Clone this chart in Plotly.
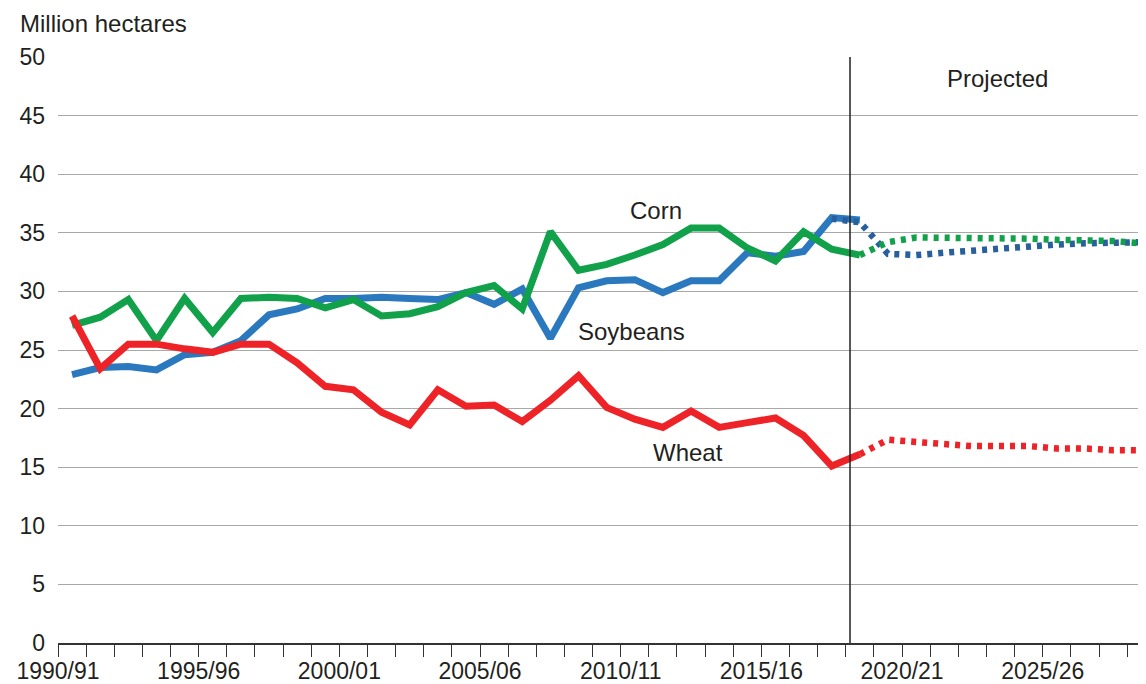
import plotly.graph_objects as go

# ---- data (million hectares) ----
hist_years = list(range(1990, 2019))
corn = [27.1, 27.8, 29.3, 25.8, 29.4, 26.5, 29.4, 29.5, 29.4, 28.6, 29.3, 27.9, 28.1, 28.7,
        29.9, 30.5, 28.5, 35.1, 31.8, 32.3, 33.1, 34.0, 35.4, 35.4, 33.7, 32.6, 35.1, 33.6, 33.1]
soybeans = [22.9, 23.5, 23.6, 23.3, 24.6, 24.8, 25.8, 28.0, 28.5, 29.4, 29.4, 29.5, 29.4, 29.3,
            29.9, 28.9, 30.2, 26.0, 30.3, 30.9, 31.0, 29.9, 30.9, 30.9, 33.3, 33.0, 33.4, 36.3, 36.1]
wheat = [27.9, 23.4, 25.5, 25.5, 25.1, 24.8, 25.5, 25.5, 23.9, 21.9, 21.6, 19.7, 18.6, 21.6,
         20.2, 20.3, 18.9, 20.7, 22.8, 20.1, 19.1, 18.4, 19.8, 18.4, 18.8, 19.2, 17.7, 15.1, 16.1]

proj_years = list(range(2018, 2029))
corn_proj = [33.1, 34.2, 34.6, 34.6, 34.6, 34.6, 34.5, 34.4, 34.4, 34.3, 34.1]
wheat_proj = [16.1, 17.35, 17.15, 16.95, 16.8, 16.8, 16.8, 16.6, 16.6, 16.45, 16.45]
soy_proj_years = list(range(2017, 2029))
soy_proj = [36.2, 35.9, 33.2, 33.1, 33.3, 33.5, 33.65, 33.85, 34.0, 34.1, 34.2, 34.2]

tick_years = list(range(1990, 2029))
tick_labels = [f"{y}/{str(y + 1)[-2:]}" if (y - 1990) % 5 == 0 else "" for y in tick_years]
projection_start = 2018.15

BLUE = "#2a78be"
BLUE_DARK = "#285f9c"
GREEN = "#10a14a"
RED = "#ed2328"
TEXT = "#231f20"
FONT = "Liberation Sans, Arial, Helvetica, sans-serif"

def mid(years):
    return [y + 0.5 for y in years]

fig = go.Figure()
fig.add_trace(go.Scatter(x=mid(hist_years), y=soybeans, mode="lines",
                         line=dict(color=BLUE, width=7), name="Soybeans"))
fig.add_trace(go.Scatter(x=mid(hist_years), y=corn, mode="lines",
                         line=dict(color=GREEN, width=7), name="Corn"))
fig.add_trace(go.Scatter(x=mid(hist_years), y=wheat, mode="lines",
                         line=dict(color=RED, width=7), name="Wheat"))
dot = "5px,6px"
fig.add_trace(go.Scatter(x=mid(soy_proj_years), y=soy_proj, mode="lines",
                         line=dict(color=BLUE_DARK, width=6.5, dash=dot), name="Soybeans projected"))
fig.add_trace(go.Scatter(x=mid(proj_years), y=corn_proj, mode="lines",
                         line=dict(color=GREEN, width=6.5, dash=dot), name="Corn projected"))
fig.add_trace(go.Scatter(x=mid(proj_years), y=wheat_proj, mode="lines",
                         line=dict(color=RED, width=6.5, dash=dot), name="Wheat projected"))

fig.add_shape(type="line", x0=projection_start, x1=projection_start, y0=0, y1=50,
              xref="x", yref="y", line=dict(color="#231f20", width=1.5), layer="above")

ann_font = dict(family=FONT, size=24, color=TEXT)
fig.add_annotation(x=2011.25, y=36.9, text="Corn", showarrow=False, font=ann_font)
fig.add_annotation(x=2010.4, y=26.55, text="Soybeans", showarrow=False, font=ann_font)
fig.add_annotation(x=2012.4, y=16.25, text="Wheat", showarrow=False, font=ann_font)
fig.add_annotation(x=2023.4, y=48.2, text="Projected", showarrow=False, font=ann_font)
fig.add_annotation(x=0, y=1, xref="paper", yref="paper", xanchor="left", yanchor="middle",
                   xshift=-40, yshift=34, text="Million hectares", showarrow=False, font=ann_font)

# page body has an 8px margin: figure is sized/offset to fill the 1146x684 window
fig.update_layout(
    width=1138, height=676,
    margin=dict(l=50, r=0, t=49, b=35),
    paper_bgcolor="white", plot_bgcolor="white",
    showlegend=False,
    font=dict(family=FONT, size=24, color=TEXT),
)
fig.update_xaxes(
    range=[1990, 2028.67], tickmode="array", tickvals=tick_years, ticktext=tick_labels,
    ticks="outside", ticklen=12, tickwidth=1.3, tickcolor="#333333",
    showline=True, linecolor="#333333", linewidth=1.5,
    showgrid=False, zeroline=False, tickfont=dict(size=23, color=TEXT),
    ticklabelstandoff=-5,
)
fig.update_yaxes(
    range=[0, 50], tickmode="array", tickvals=list(range(0, 51, 5)),
    showgrid=True, gridcolor="#a8a8a8", gridwidth=1, zeroline=False,
    showline=False, ticks="", ticklabelstandoff=12, tickfont=dict(size=23, color=TEXT),
)

fig.write_html("out.html")
